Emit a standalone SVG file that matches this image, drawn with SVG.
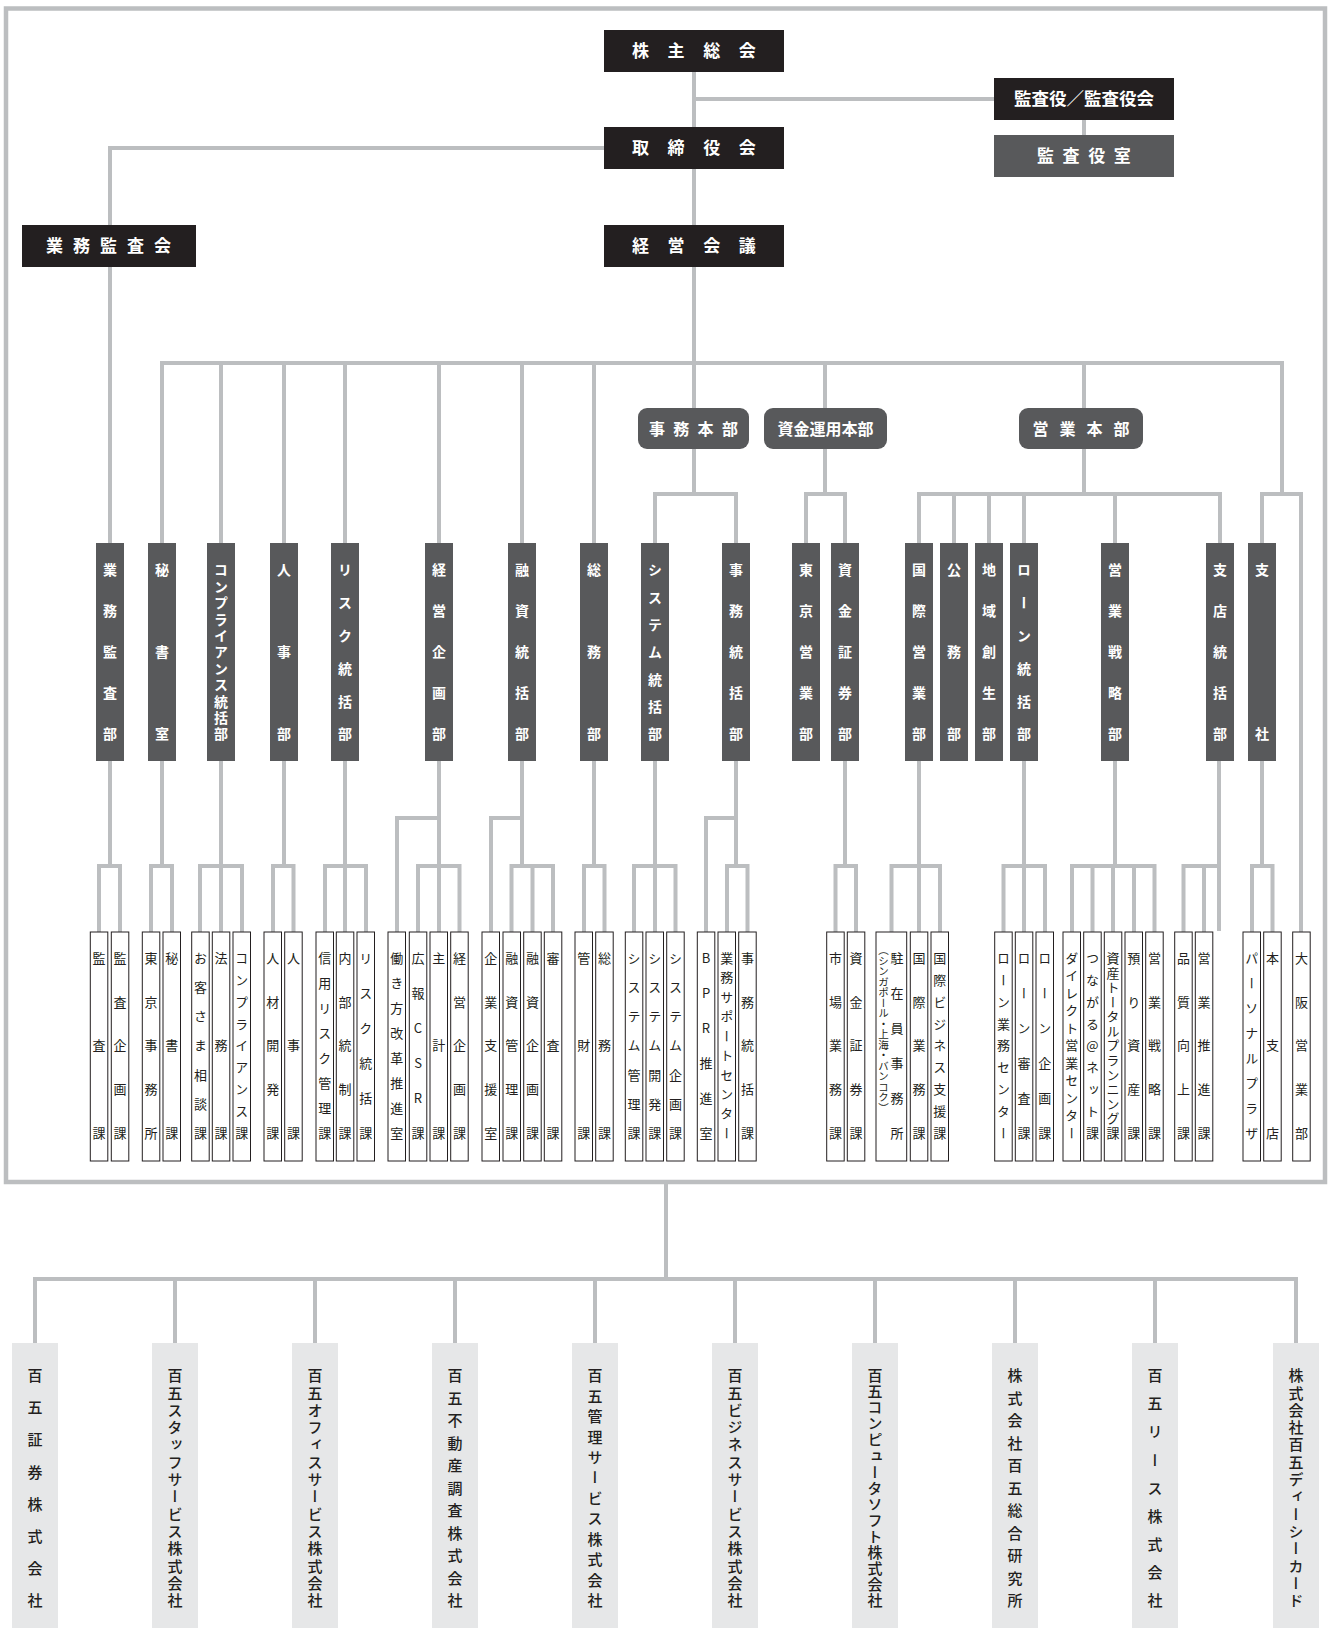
<svg xmlns="http://www.w3.org/2000/svg" width="1335" height="1628" viewBox="0 0 1335 1628">
<style>
.ln{stroke:#bcbec0;stroke-width:4;fill:none}
.frame{stroke:#bcbec0;stroke-width:4.5;fill:none}
.top{fill:#231f20}
.dk{fill:#58595b}
.sec{fill:#fff;stroke:#231f20;stroke-width:1}
.aff{fill:#e6e7e8}
text{font-family:"Noto Sans CJK JP","Noto Sans CJK SC",sans-serif}
.th{fill:#fff;font-weight:bold;font-size:17px;dominant-baseline:central}
.hq{fill:#fff;font-weight:bold;font-size:16px;dominant-baseline:central}
.v{writing-mode:vertical-rl;text-orientation:upright}
.dt{fill:#fff;font-weight:bold;font-size:14px}
.st{fill:#231f20;font-size:13px}
.sm{fill:#231f20;font-size:10.5px}
.at{fill:#231f20;font-size:15px;font-weight:500}
</style>
<rect class="frame" x="6" y="8.5" width="1319" height="1173.5"/>
<g id="connectors">
<path class="ln" d="M694 72V408M694 99H994M1084 120V135M604 148H110V543"/>
<path class="ln" d="M162 543V363H1282V494M221 363V543M284 363V543M345 363V543M439 363V543M522 363V543M594 363V543M825 363V408M1084 363V408"/>
<path class="ln" d="M1262 543V494H1301V932"/>
<path class="ln" d="M694 449V494M655 543V494H736V543M825 449V494M806 543V494H845V543M1084 449V494M919 543V494H1220V543M954 494V543M989 494V543M1024 494V543M1115 494V543"/>
<path class="ln" d="M110 761V866M99 932V866H120V932"/>
<path class="ln" d="M162 761V866M151 932V866H172V932"/>
<path class="ln" d="M221 761V932M200 932V866H242V932"/>
<path class="ln" d="M284 761V866M273 932V866H293.5V932"/>
<path class="ln" d="M345 761V932M325 932V866H366V932"/>
<path class="ln" d="M439 761V932M439 818H397V932M418 932V866H459.5V932"/>
<path class="ln" d="M522 761V866M522 818H491V932M511.5 932V866H553V932M532.5 866V932"/>
<path class="ln" d="M594 761V866M584 932V866H604.5V932"/>
<path class="ln" d="M655 761V932M634 932V866H675.5V932"/>
<path class="ln" d="M736 761V866M736 818H706V932M727 932V866H747.5V932"/>
<path class="ln" d="M845 761V866M835.5 932V866H856V932"/>
<path class="ln" d="M919 761V932M891.5 932V866H940V932"/>
<path class="ln" d="M1024 761V932M1003.5 932V866H1045V932"/>
<path class="ln" d="M1115 761V866M1072 932V866H1154.5V932M1092.5 866V932M1113 866V932M1134 866V932"/>
<path class="ln" d="M1219 761V931M1183.5 932V866H1219M1204 866V932"/>
<path class="ln" d="M1262 761V866M1252 932V866H1272.5V932"/>
<path class="ln" d="M666 1182V1279M35 1343V1279H1296V1343M175 1279V1343M315 1279V1343M455 1279V1343M595 1279V1343M735 1279V1343M875 1279V1343M1015 1279V1343M1155 1279V1343"/>
</g>
<g id="n-kabunushi"><rect class="top" x="604" y="30" width="180" height="42"/><text class="th" x="632" y="49.5" style="letter-spacing:18.6px">株主総会</text></g>
<g id="n-torishimari"><rect class="top" x="604" y="127" width="180" height="42"/><text class="th" x="632" y="146.5" style="letter-spacing:18.6px">取締役会</text></g>
<g id="n-keiei"><rect class="top" x="604" y="225" width="180" height="42"/><text class="th" x="632" y="244.5" style="letter-spacing:18.6px">経営会議</text></g>
<g id="n-kansayaku"><rect class="top" x="994" y="78" width="180" height="42"/><text class="th" x="1084" y="97.5" text-anchor="middle" style="font-size:17.5px">監査役／監査役会</text></g>
<g id="n-kansayakushitsu"><rect class="dk" x="994" y="135" width="180" height="42"/><text class="th" x="1037" y="154.5" style="letter-spacing:8.6px">監査役室</text></g>
<g id="n-gyomukansakai"><rect class="top" x="22" y="225" width="174" height="42"/><text class="th" x="46" y="244.5" style="letter-spacing:10px">業務監査会</text></g>
<g id="hq-jimu"><rect class="dk" x="638" y="408" width="111" height="41" rx="9"/><text class="hq" x="649" y="428" style="letter-spacing:8.3px">事務本部</text></g>
<g id="hq-shikin"><rect class="dk" x="764" y="408" width="123" height="41" rx="9"/><text class="hq" x="825.5" y="428" text-anchor="middle">資金運用本部</text></g>
<g id="hq-eigyo"><rect class="dk" x="1019" y="408" width="124" height="41" rx="9"/><text class="hq" x="1032.5" y="428" style="letter-spacing:11px">営業本部</text></g>
<g id="depts">
<g id="d1"><rect class="dk" x="96" y="543" width="28" height="218"/><text class="v dt" x="110" y="563" style="letter-spacing:27px">業務監査部</text></g>
<g id="d2"><rect class="dk" x="148" y="543" width="28" height="218"/><text class="v dt" x="162" y="563" style="letter-spacing:68px">秘書室</text></g>
<g id="d3"><rect class="dk" x="207" y="543" width="28" height="218"/><text class="v dt" x="221" y="563" style="letter-spacing:2.4px">コンプライアンス統括部</text></g>
<g id="d4"><rect class="dk" x="270" y="543" width="28" height="218"/><text class="v dt" x="284" y="563" style="letter-spacing:68px">人事部</text></g>
<g id="d5"><rect class="dk" x="331" y="543" width="28" height="218"/><text class="v dt" x="345" y="563" style="letter-spacing:18.8px">リスク統括部</text></g>
<g id="d6"><rect class="dk" x="425" y="543" width="28" height="218"/><text class="v dt" x="439" y="563" style="letter-spacing:27px">経営企画部</text></g>
<g id="d7"><rect class="dk" x="508" y="543" width="28" height="218"/><text class="v dt" x="522" y="563" style="letter-spacing:27px">融資統括部</text></g>
<g id="d8"><rect class="dk" x="580" y="543" width="28" height="218"/><text class="v dt" x="594" y="563" style="letter-spacing:68px">総務部</text></g>
<g id="d9"><rect class="dk" x="641" y="543" width="28" height="218"/><text class="v dt" x="655" y="563" style="letter-spacing:13.33px">システム統括部</text></g>
<g id="d10"><rect class="dk" x="722" y="543" width="28" height="218"/><text class="v dt" x="736" y="563" style="letter-spacing:27px">事務統括部</text></g>
<g id="d11"><rect class="dk" x="792" y="543" width="28" height="218"/><text class="v dt" x="806" y="563" style="letter-spacing:27px">東京営業部</text></g>
<g id="d12"><rect class="dk" x="831" y="543" width="28" height="218"/><text class="v dt" x="845" y="563" style="letter-spacing:27px">資金証券部</text></g>
<g id="d13"><rect class="dk" x="905" y="543" width="28" height="218"/><text class="v dt" x="919" y="563" style="letter-spacing:27px">国際営業部</text></g>
<g id="d14"><rect class="dk" x="940" y="543" width="28" height="218"/><text class="v dt" x="954" y="563" style="letter-spacing:68px">公務部</text></g>
<g id="d15"><rect class="dk" x="975" y="543" width="28" height="218"/><text class="v dt" x="989" y="563" style="letter-spacing:27px">地域創生部</text></g>
<g id="d16"><rect class="dk" x="1010" y="543" width="28" height="218"/><text class="v dt" x="1024" y="563" style="letter-spacing:18.8px">ローン統括部</text></g>
<g id="d17"><rect class="dk" x="1101" y="543" width="28" height="218"/><text class="v dt" x="1115" y="563" style="letter-spacing:27px">営業戦略部</text></g>
<g id="d18"><rect class="dk" x="1206" y="543" width="28" height="218"/><text class="v dt" x="1220" y="563" style="letter-spacing:27px">支店統括部</text></g>
<g id="d19"><rect class="dk" x="1248" y="543" width="28" height="218"/><text class="v dt" x="1262" y="563" style="letter-spacing:150px">支社</text></g>
</g>
<g id="sections">
<g id="s1"><rect class="sec" x="90.3" y="932" width="17.5" height="229"/><text class="v st" x="99" y="951.5" style="letter-spacing:74.5px">監査課</text></g>
<g id="s2"><rect class="sec" x="111.3" y="932" width="17.5" height="229"/><text class="v st" x="120" y="951.5" style="letter-spacing:30.75px">監査企画課</text></g>
<g id="s3"><rect class="sec" x="142.3" y="932" width="17.5" height="229"/><text class="v st" x="151" y="951.5" style="letter-spacing:30.75px">東京事務所</text></g>
<g id="s4"><rect class="sec" x="163" y="932" width="17.5" height="229"/><text class="v st" x="171.7" y="951.5" style="letter-spacing:74.5px">秘書課</text></g>
<g id="s5"><rect class="sec" x="191.7" y="932" width="17.5" height="229"/><text class="v st" x="200.4" y="951.5" style="letter-spacing:16.17px">お客さま相談課</text></g>
<g id="s6"><rect class="sec" x="212.3" y="932" width="17.5" height="229"/><text class="v st" x="221" y="951.5" style="letter-spacing:74.5px">法務課</text></g>
<g id="s7"><rect class="sec" x="233" y="932" width="17.5" height="229"/><text class="v st" x="241.7" y="951.5" style="letter-spacing:8.875px">コンプライアンス課</text></g>
<g id="s8"><rect class="sec" x="264" y="932" width="17.5" height="229"/><text class="v st" x="272.7" y="951.5" style="letter-spacing:30.75px">人材開発課</text></g>
<g id="s9"><rect class="sec" x="284.7" y="932" width="17.5" height="229"/><text class="v st" x="293.4" y="951.5" style="letter-spacing:74.5px">人事課</text></g>
<g id="s10"><rect class="sec" x="316" y="932" width="17.5" height="229"/><text class="v st" x="324.7" y="951.5" style="letter-spacing:12px">信用リスク管理課</text></g>
<g id="s11"><rect class="sec" x="336.3" y="932" width="17.5" height="229"/><text class="v st" x="345" y="951.5" style="letter-spacing:30.75px">内部統制課</text></g>
<g id="s12"><rect class="sec" x="357" y="932" width="17.5" height="229"/><text class="v st" x="365.7" y="951.5" style="letter-spacing:22px">リスク統括課</text></g>
<g id="s13"><rect class="sec" x="388" y="932" width="17.5" height="229"/><text class="v st" x="396.7" y="951.5" style="letter-spacing:12px">働き方改革推進室</text></g>
<g id="s14"><rect class="sec" x="409.3" y="932" width="17.5" height="229"/><text class="v st" x="418" y="951.5" style="letter-spacing:22px">広報CSR課</text></g>
<g id="s15"><rect class="sec" x="430" y="932" width="17.5" height="229"/><text class="v st" x="438.7" y="951.5" style="letter-spacing:74.5px">主計課</text></g>
<g id="s16"><rect class="sec" x="450.7" y="932" width="17.5" height="229"/><text class="v st" x="459.4" y="951.5" style="letter-spacing:30.75px">経営企画課</text></g>
<g id="s17"><rect class="sec" x="482" y="932" width="17.5" height="229"/><text class="v st" x="490.7" y="951.5" style="letter-spacing:30.75px">企業支援室</text></g>
<g id="s18"><rect class="sec" x="503" y="932" width="17.5" height="229"/><text class="v st" x="511.7" y="951.5" style="letter-spacing:30.75px">融資管理課</text></g>
<g id="s19"><rect class="sec" x="523.7" y="932" width="17.5" height="229"/><text class="v st" x="532.4" y="951.5" style="letter-spacing:30.75px">融資企画課</text></g>
<g id="s20"><rect class="sec" x="544.3" y="932" width="17.5" height="229"/><text class="v st" x="553" y="951.5" style="letter-spacing:74.5px">審査課</text></g>
<g id="s21"><rect class="sec" x="575" y="932" width="17.5" height="229"/><text class="v st" x="583.7" y="951.5" style="letter-spacing:74.5px">管財課</text></g>
<g id="s22"><rect class="sec" x="595.7" y="932" width="17.5" height="229"/><text class="v st" x="604.4" y="951.5" style="letter-spacing:74.5px">総務課</text></g>
<g id="s23"><rect class="sec" x="625.3" y="932" width="17.5" height="229"/><text class="v st" x="634" y="951.5" style="letter-spacing:16.17px">システム管理課</text></g>
<g id="s24"><rect class="sec" x="646" y="932" width="17.5" height="229"/><text class="v st" x="654.7" y="951.5" style="letter-spacing:16.17px">システム開発課</text></g>
<g id="s25"><rect class="sec" x="666.7" y="932" width="17.5" height="229"/><text class="v st" x="675.4" y="951.5" style="letter-spacing:16.17px">システム企画課</text></g>
<g id="s26"><rect class="sec" x="697.3" y="932" width="17.5" height="229"/><text class="v st" x="706" y="951.5" style="letter-spacing:22px">BPR推進室</text></g>
<g id="s27"><rect class="sec" x="718" y="932" width="17.5" height="229"/><text class="v st" x="726.7" y="951.5" style="letter-spacing:6.44px">業務サポートセンター</text></g>
<g id="s28"><rect class="sec" x="738.7" y="932" width="17.5" height="229"/><text class="v st" x="747.4" y="951.5" style="letter-spacing:30.75px">事務統括課</text></g>
<g id="s29"><rect class="sec" x="826.7" y="932" width="17.5" height="229"/><text class="v st" x="835.4" y="951.5" style="letter-spacing:30.75px">市場業務課</text></g>
<g id="s30"><rect class="sec" x="847.3" y="932" width="17.5" height="229"/><text class="v st" x="856" y="951.5" style="letter-spacing:30.75px">資金証券課</text></g>
<g id="s31"><rect class="sec" x="876" y="932" width="30.7" height="229"/><text class="v st" x="897" y="951.5" style="letter-spacing:22px">駐在員事務所</text><text class="v sm" x="883.5" y="945">（シンガポール・上海・バンコク）</text></g>
<g id="s32"><rect class="sec" x="910.3" y="932" width="17.5" height="229"/><text class="v st" x="919" y="951.5" style="letter-spacing:30.75px">国際業務課</text></g>
<g id="s33"><rect class="sec" x="931" y="932" width="17.5" height="229"/><text class="v st" x="939.7" y="951.5" style="letter-spacing:8.875px">国際ビジネス支援課</text></g>
<g id="s34"><rect class="sec" x="994.7" y="932" width="17.5" height="229"/><text class="v st" x="1003.4" y="951.5" style="letter-spacing:8.875px">ローン業務センター</text></g>
<g id="s35"><rect class="sec" x="1015.3" y="932" width="17.5" height="229"/><text class="v st" x="1024" y="951.5" style="letter-spacing:22px">ローン審査課</text></g>
<g id="s36"><rect class="sec" x="1036" y="932" width="17.5" height="229"/><text class="v st" x="1044.7" y="951.5" style="letter-spacing:22px">ローン企画課</text></g>
<g id="s37"><rect class="sec" x="1063" y="932" width="17.5" height="229"/><text class="v st" x="1071.7" y="951.5" style="letter-spacing:4.5px">ダイレクト営業センター</text></g>
<g id="s38"><rect class="sec" x="1083.7" y="932" width="17.5" height="229"/><text class="v st" x="1092.4" y="951.5" style="letter-spacing:8.875px">つながる@ネット課</text></g>
<g id="s39"><rect class="sec" x="1104.3" y="932" width="17.5" height="229"/><text class="v st" x="1113" y="951.5" style="letter-spacing:1.58px">資産トータルプランニング課</text></g>
<g id="s40"><rect class="sec" x="1125" y="932" width="17.5" height="229"/><text class="v st" x="1133.7" y="951.5" style="letter-spacing:30.75px">預り資産課</text></g>
<g id="s41"><rect class="sec" x="1145.7" y="932" width="17.5" height="229"/><text class="v st" x="1154.4" y="951.5" style="letter-spacing:30.75px">営業戦略課</text></g>
<g id="s42"><rect class="sec" x="1174.7" y="932" width="17.5" height="229"/><text class="v st" x="1183.4" y="951.5" style="letter-spacing:30.75px">品質向上課</text></g>
<g id="s43"><rect class="sec" x="1195.3" y="932" width="17.5" height="229"/><text class="v st" x="1204" y="951.5" style="letter-spacing:30.75px">営業推進課</text></g>
<g id="s44"><rect class="sec" x="1243" y="932" width="17.5" height="229"/><text class="v st" x="1251.7" y="951.5" style="letter-spacing:12px">パーソナルプラザ</text></g>
<g id="s45"><rect class="sec" x="1263.7" y="932" width="17.5" height="229"/><text class="v st" x="1272.4" y="951.5" style="letter-spacing:74.5px">本支店</text></g>
<g id="s46"><rect class="sec" x="1292.7" y="932" width="17.5" height="229"/><text class="v st" x="1301.4" y="951.5" style="letter-spacing:30.75px">大阪営業部</text></g>
</g>
<g id="affiliates">
<g id="a1"><rect class="aff" x="12" y="1343" width="46" height="285"/><text class="v at" x="35" y="1368" style="letter-spacing:17.14px">百五証券株式会社</text></g>
<g id="a2"><rect class="aff" x="152" y="1343" width="46" height="285"/><text class="v at" x="175" y="1368" style="letter-spacing:2.31px">百五スタッフサービス株式会社</text></g>
<g id="a3"><rect class="aff" x="292" y="1343" width="46" height="285"/><text class="v at" x="315" y="1368" style="letter-spacing:2.31px">百五オフィスサービス株式会社</text></g>
<g id="a4"><rect class="aff" x="432" y="1343" width="46" height="285"/><text class="v at" x="455" y="1368" style="letter-spacing:7.5px">百五不動産調査株式会社</text></g>
<g id="a5"><rect class="aff" x="572" y="1343" width="46" height="285"/><text class="v at" x="595" y="1368" style="letter-spacing:5.45px">百五管理サービス株式会社</text></g>
<g id="a6"><rect class="aff" x="712" y="1343" width="46" height="285"/><text class="v at" x="735" y="1368" style="letter-spacing:2.31px">百五ビジネスサービス株式会社</text></g>
<g id="a7"><rect class="aff" x="852" y="1343" width="46" height="285"/><text class="v at" x="875" y="1368" style="letter-spacing:1.07px">百五コンピュータソフト株式会社</text></g>
<g id="a8"><rect class="aff" x="992" y="1343" width="46" height="285"/><text class="v at" x="1015" y="1368" style="letter-spacing:7.5px">株式会社百五総合研究所</text></g>
<g id="a9"><rect class="aff" x="1132" y="1343" width="46" height="285"/><text class="v at" x="1155" y="1368" style="letter-spacing:13.125px">百五リース株式会社</text></g>
<g id="a10"><rect class="aff" x="1273" y="1343" width="46" height="285"/><text class="v at" x="1296" y="1368" style="letter-spacing:2.31px">株式会社百五ディーシーカード</text></g>
</g>
</svg>
